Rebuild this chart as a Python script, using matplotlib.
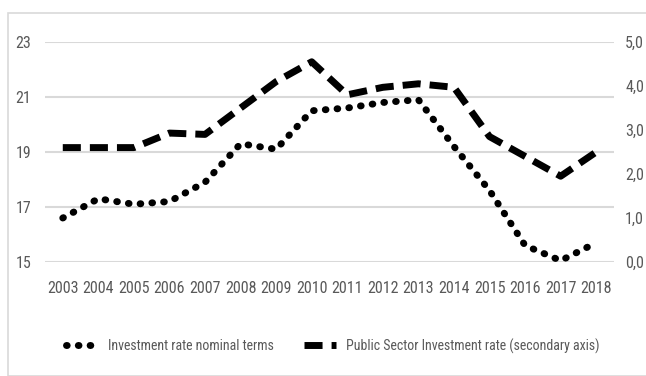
import matplotlib
matplotlib.use("Agg")
import matplotlib.pyplot as plt
from matplotlib.patches import Rectangle

plt.rcParams['font.family'] = ['Roboto Condensed', 'DejaVu Sans']

years = [str(y) for y in range(2003, 2019)]
investment_rate = [16.6, 17.3, 17.1, 17.2, 17.9, 19.3, 19.1, 20.5,
                   20.6, 20.8, 20.9, 19.2, 17.6, 15.6, 15.05, 15.7]
public_rate = [2.6, 2.6, 2.6, 2.93, 2.9, 3.5, 4.1, 4.55,
               3.8, 3.97, 4.05, 3.97, 2.85, 2.4, 1.95, 2.5]
left_ticks = [15, 17, 19, 21, 23]
right_ticks = [0, 1, 2, 3, 4, 5]
right_labels = ['0,0', '1,0', '2,0', '3,0', '4,0', '5,0']

W, H = 646, 376
fig = plt.figure(figsize=(W / 100, H / 100), dpi=100)
ax = fig.add_axes([45 / W, 1 - 262 / H, (614 - 45) / W, (262 - 42) / H])
ax2 = ax.twinx()

text_col = '#595959'
grid_col = '#d9d9d9'

x = list(range(len(years)))
l1, = ax.plot(x, investment_rate, color='black', lw=5, linestyle=(0, (0.1, 1.6)),
              dash_capstyle='round', label='Investment rate nominal terms')
l2, = ax2.plot(x, public_rate, color='black', lw=5, linestyle=(0, (2.6, 1.3)),
               label='Public Sector Investment rate (secondary axis)')

ax.set_xlim(-0.5, len(years) - 0.5)
ax.set_ylim(15, 23)
ax2.set_ylim(0, 5)
ax.set_yticks(left_ticks)
ax2.set_yticks(right_ticks)
ax2.set_yticklabels(right_labels)
ax.set_xticks(x)
ax.set_xticklabels(years)

for t in left_ticks:
    ax.axhline(t, color=grid_col, lw=1.5, zorder=0)

for a in (ax, ax2):
    for s in a.spines.values():
        s.set_visible(False)
    a.tick_params(length=0, labelsize=11.5, colors=text_col)
ax.tick_params(axis='y', pad=10)
ax2.tick_params(axis='y', pad=8)
ax.tick_params(axis='x', pad=14)

fig.patches.append(Rectangle((8 / W, 0), 1, 1 - 13 / H, transform=fig.transFigure,
                             fill=False, edgecolor='#d9d9d9', lw=1.2))

leg = fig.legend(handles=[l1, l2], loc='center', bbox_to_anchor=(333 / W, 1 - 346 / H),
                 ncol=2, frameon=False, fontsize=10, handlelength=2.3,
                 columnspacing=2.2, handletextpad=0.7)
for t in leg.get_texts():
    t.set_color(text_col)

fig.savefig('out.png', dpi=100)
